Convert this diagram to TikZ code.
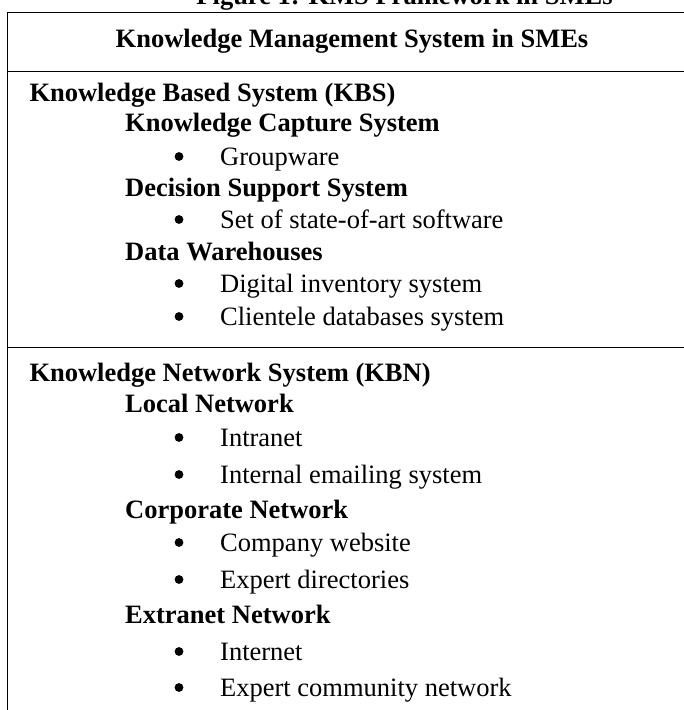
\documentclass[tikz,border=0pt]{standalone}
\usepackage{fontspec}
\setmainfont{Liberation Serif}
\begin{document}
\begin{tikzpicture}[x=1pt,y=-1pt,
  txt/.style={anchor=base west, inner sep=0pt, text=black,
    font=\fontsize{26.5}{30}\selectfont},
  headtxt/.style={txt, font=\fontsize{26.5}{30}\selectfont\bfseries},
  itemtxt/.style={txt},
  rule/.style={line width=1.4pt, black},
  dot/.style={black}
]
\useasboundingbox (0,0) rectangle (684,710);
\clip (0,0) rectangle (684,710);

% caption above the table
\node[anchor=base, inner sep=0pt, font=\fontsize{26.5}{30}\selectfont\bfseries]
  (cap) at (404.5,4) {Figure 1: KMS Framework in SMEs};

% table frame and row rules
\draw[rule] (700,12.3) -- (7.3,12.3) -- (7.3,720);
\draw[rule] (7.3,71.7) -- (700,71.7);
\draw[rule] (7.3,347.3) -- (700,347.3);

% table heading
\node[anchor=base, inner sep=0pt, font=\fontsize{26.5}{30}\selectfont\bfseries]
  (title) at (352,47.3) {Knowledge Management System in SMEs};

% first block: knowledge based system
\node[headtxt] (kbs) at (29.3,101.7) {Knowledge Based System (KBS)};
\node[headtxt] (kcs) at (125,131.7) {Knowledge Capture System};
\node[headtxt] (dss) at (125,196) {Decision Support System};
\node[headtxt] (dw)  at (125,260) {Data Warehouses};

% second block: knowledge network system
\node[headtxt] (kbn) at (29.3,381.7) {Knowledge Network System (KBN)};
\node[headtxt] (ln)  at (125,412.7) {Local Network};
\node[headtxt] (cn)  at (125,518.3) {Corporate Network};
\node[headtxt] (en)  at (125,623.3) {Extranet Network};

% bulleted entries
\foreach \nm/\yy/\tx in {
    gw/165/Groupware,
    sos/228/Set of state-of-art software,
    dis/292/Digital inventory system,
    cds/325/Clientele databases system,
    intra/446/Intranet,
    ies/483/Internal emailing system,
    cw/551/Company website,
    ed/588/Expert directories,
    inet/660/Internet,
    ecn/696/Expert community network} {
  \node[itemtxt] (\nm) at (220,\yy) {\tx};
  \fill[dot] ([xshift=-41pt,yshift=8.5pt]\nm.base west) circle (4.4pt);
}
\end{tikzpicture}
\end{document}
